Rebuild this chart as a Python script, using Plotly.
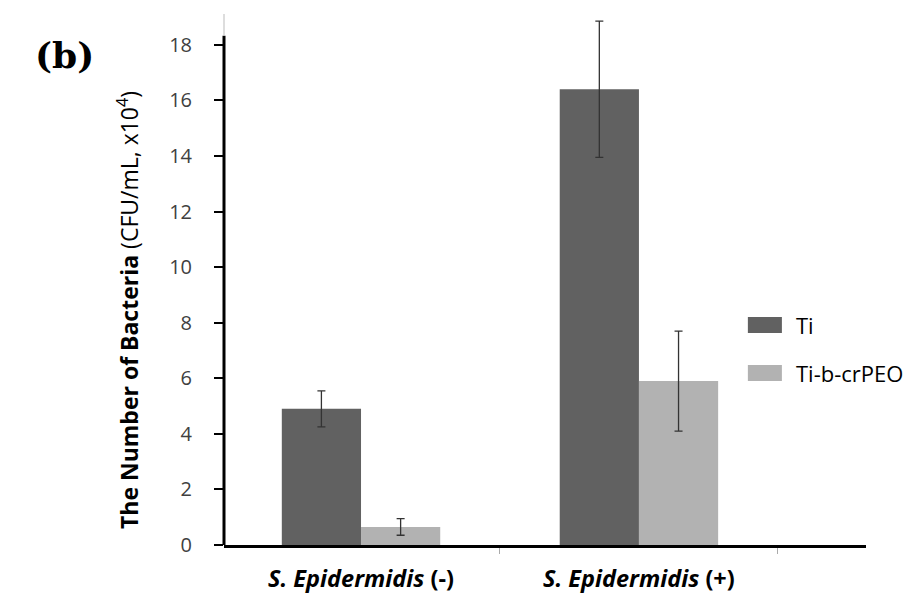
import plotly.graph_objects as go

categories = ["<i><b>S. Epidermidis</b></i> <b>(-)</b>", "<i><b>S. Epidermidis</b></i> <b>(+)</b>"]
series_names = ["Ti", "Ti-b-crPEO"]
ti_values = [4.9, 16.4]
ti_errors = [0.65, 2.45]
crpeo_values = [0.65, 5.9]
crpeo_errors = [0.3, 1.8]
y_ticks = [0, 2, 4, 6, 8, 10, 12, 14, 16, 18]
axis_top = 18.33

colors = ["#616161", "#b2b2b2"]

fig = go.Figure()
for name, vals, errs, col in zip(series_names, [ti_values, crpeo_values],
                                 [ti_errors, crpeo_errors], colors):
    fig.add_trace(go.Bar(
        x=categories, y=vals, name=name, marker_color=col,
        marker_line_width=0,
        error_y=dict(type="data", array=errs, visible=True, color="#333333",
                     thickness=1.3, width=4),
        showlegend=False,
    ))

tick_font = dict(family="Open Sans, sans-serif", size=20, color="#404040")

fig.update_layout(
    width=913, height=593,
    paper_bgcolor="white", plot_bgcolor="white",
    margin=dict(l=224, r=47, t=14, b=48),
    barmode="group", bargap=0.43, bargroupgap=0,
    xaxis=dict(
        range=[-0.493, 1.817], automargin=False,
        showline=True, linecolor="black", linewidth=3,
        ticks="outside", tickson="boundaries", ticklen=6, tickcolor="#aaaaaa",
        tickwidth=1, ticklabelstandoff=11,
        tickfont=dict(family="Open Sans, sans-serif", size=23.5, color="black"),
        showgrid=False, zeroline=False,
    ),
    yaxis=dict(
        range=[0, 19.11], tickvals=y_ticks, automargin=False,
        showline=False,
        ticks="outside", ticklen=9, tickcolor="black", tickwidth=2,
        ticklabelstandoff=18,
        tickfont=tick_font, showgrid=False, zeroline=False,
    ),
)

# y axis title as rotated annotation
fig.add_annotation(xref="paper", yref="paper", x=-0.1495, y=0.4425,
                   text="<b>The Number of Bacteria</b> (CFU/mL, x10<sup>4</sup>)",
                   textangle=-90, showarrow=False, xanchor="center", yanchor="middle",
                   font=dict(family="Open Sans, sans-serif", size=23, color="black"))

# thick y axis line up to the axis top, thin grey extension above it
fig.add_shape(type="line", xref="paper", yref="y", x0=0, x1=0, y0=0, y1=axis_top,
              line=dict(color="black", width=3))
fig.add_shape(type="line", xref="paper", yref="y", x0=0, x1=0, y0=axis_top, y1=19.11,
              line=dict(color="#bbbbbb", width=1))

# manual legend
leg_x0, leg_x1 = 0.816, 0.869
for i, (name, col) in enumerate(zip(series_names, colors)):
    yc = 0.4143 - i * 0.0904
    fig.add_shape(type="rect", xref="paper", yref="paper",
                  x0=leg_x0, x1=leg_x1, y0=yc - 0.0151, y1=yc + 0.0151,
                  fillcolor=col, line=dict(width=0))
    fig.add_annotation(xref="paper", yref="paper", x=0.888, y=yc, text=name,
                       showarrow=False, xanchor="left", yanchor="middle",
                       font=dict(family="Open Sans, sans-serif", size=22, color="black"))

# panel label
fig.add_annotation(xref="paper", yref="paper", x=-0.2477, y=0.9228, text="<b>(b)</b>",
                   showarrow=False, xanchor="center", yanchor="middle",
                   font=dict(family="DejaVu Serif, serif", size=36, color="black"))

fig.write_html("out.html", config={"displayModeBar": False},
               post_script="document.body.style.margin='0';document.body.style.overflow='hidden';")
